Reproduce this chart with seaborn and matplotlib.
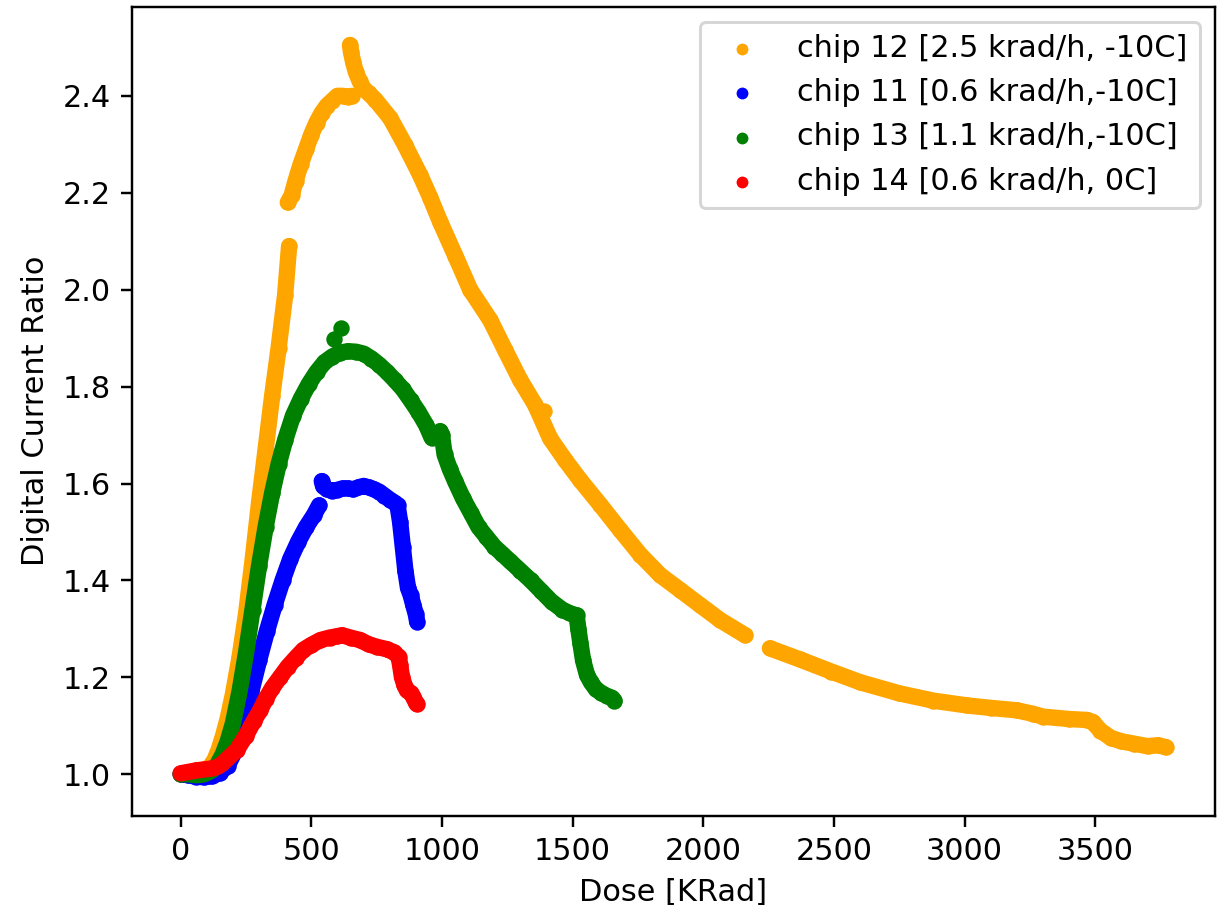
import numpy as np
import pandas as pd
import matplotlib
matplotlib.use("Agg")
import matplotlib.pyplot as plt
import seaborn as sns

# ---------------- data ----------------
# chip 12 [2.5 krad/h, -10C]  (orange) - runs with gaps/jumps
chip12_dose_a = [0, 20, 40, 60, 80, 100, 115, 130, 145, 160, 180, 200, 225, 250, 275, 300, 325, 350, 375, 400, 415]
chip12_ratio_a = [1.000, 1.002, 1.004, 1.005, 1.006, 1.010, 1.018, 1.030, 1.050, 1.075, 1.115, 1.165, 1.240, 1.330,
                  1.440, 1.560, 1.670, 1.780, 1.880, 1.990, 2.090]
chip12_dose_b = [410, 425, 440, 460, 480, 500, 520, 540, 560, 580, 600, 620, 640, 655]
chip12_ratio_b = [2.180, 2.195, 2.225, 2.260, 2.290, 2.320, 2.345, 2.365, 2.380, 2.390, 2.400, 2.400, 2.398, 2.400]
chip12_dose_c = [648, 652, 660, 670, 685, 700, 720, 745, 802, 859, 917, 955, 993, 1051, 1108, 1185, 1242, 1299,
                 1357, 1414, 1472, 1529, 1606, 1682, 1759, 1835, 1912, 1988, 2065, 2160]
chip12_ratio_c = [2.505, 2.490, 2.470, 2.450, 2.430, 2.415, 2.405, 2.392, 2.354, 2.298, 2.236, 2.190, 2.140, 2.070,
                  2.000, 1.937, 1.875, 1.814, 1.762, 1.693, 1.648, 1.607, 1.556, 1.504, 1.453, 1.411, 1.380,
                  1.349, 1.318, 1.287]
chip12_dose_out = [1390]
chip12_ratio_out = [1.750]
chip12_dose_d = [2255, 2370, 2490, 2600, 2750, 2880, 3010, 3100, 3200, 3260, 3300, 3400, 3470, 3490, 3520, 3560,
                 3600, 3650, 3700, 3740, 3770]
chip12_ratio_d = [1.260, 1.237, 1.212, 1.190, 1.167, 1.152, 1.142, 1.137, 1.132, 1.125, 1.119, 1.114, 1.112, 1.108,
                  1.090, 1.075, 1.068, 1.063, 1.058, 1.060, 1.056]

# chip 11 [0.6 krad/h,-10C]  (blue)
chip11_dose_a = [0, 30, 60, 90, 120, 150, 180, 210, 240, 270, 300, 330, 360, 390, 420, 450, 480, 510, 530]
chip11_ratio_a = [1.000, 0.998, 0.995, 0.994, 0.996, 1.003, 1.018, 1.050, 1.105, 1.170, 1.235, 1.295, 1.350, 1.400,
                  1.445, 1.480, 1.510, 1.535, 1.555]
chip11_dose_b = [540, 545, 560, 580, 600, 620, 640, 660, 680, 700, 720, 740, 760, 780, 800, 820, 830, 840, 850, 860,
                 870, 880, 890, 900, 905]
chip11_ratio_b = [1.605, 1.595, 1.588, 1.585, 1.587, 1.590, 1.590, 1.588, 1.592, 1.595, 1.592, 1.588, 1.583, 1.575,
                  1.567, 1.560, 1.555, 1.520, 1.470, 1.420, 1.385, 1.370, 1.350, 1.330, 1.315]

# chip 13 [1.1 krad/h,-10C]  (green)
chip13_dose_a = [0, 30, 60, 90, 120, 140, 160, 180, 200, 225, 250, 275, 300, 325, 350, 375, 400, 430, 460, 490, 520,
                 550, 580, 610, 640, 670, 700, 730, 760, 790, 820, 850, 880, 910, 940, 960]
chip13_ratio_a = [1.000, 1.000, 0.998, 1.000, 1.008, 1.020, 1.040, 1.068, 1.105, 1.170, 1.250, 1.340, 1.430, 1.510,
                  1.580, 1.640, 1.690, 1.740, 1.775, 1.805, 1.830, 1.850, 1.862, 1.870, 1.873, 1.872, 1.868, 1.858,
                  1.845, 1.830, 1.813, 1.795, 1.772, 1.748, 1.720, 1.695]
chip13_dose_b = [993, 1000, 1010, 1030, 1050, 1080, 1110, 1140, 1170, 1200, 1230, 1260, 1300, 1340, 1380, 1420, 1460,
                 1490, 1515, 1522, 1530, 1540, 1555, 1570, 1590, 1610, 1630, 1650, 1660]
chip13_ratio_b = [1.708, 1.700, 1.660, 1.630, 1.605, 1.570, 1.540, 1.510, 1.490, 1.470, 1.455, 1.440, 1.420, 1.400,
                  1.378, 1.356, 1.340, 1.332, 1.328, 1.300, 1.270, 1.235, 1.205, 1.190, 1.175, 1.168, 1.162, 1.158,
                  1.152]
chip13_dose_out = [585, 615]
chip13_ratio_out = [1.899, 1.920]

# chip 14 [0.6 krad/h, 0C]  (red)
chip14_dose = [0, 30, 60, 90, 120, 140, 160, 185, 215, 250, 280, 305, 325, 350, 380, 410, 440, 470, 500, 535, 570,
               600, 617, 650, 687, 720, 751, 790, 815, 834, 840, 847, 856, 866, 880, 890, 900, 905]
chip14_ratio = [1.002, 1.005, 1.008, 1.010, 1.012, 1.015, 1.022, 1.035, 1.050, 1.080, 1.110, 1.133, 1.155, 1.178,
                1.200, 1.222, 1.240, 1.257, 1.267, 1.277, 1.282, 1.285, 1.287, 1.282, 1.277, 1.268, 1.263, 1.258,
                1.252, 1.243, 1.225, 1.200, 1.185, 1.173, 1.168, 1.160, 1.148, 1.145]

labels = ["chip 12 [2.5 krad/h, -10C]", "chip 11 [0.6 krad/h,-10C]",
          "chip 13 [1.1 krad/h,-10C]", "chip 14 [0.6 krad/h, 0C]"]
colors = ["orange", "blue", "green", "red"]

series = [
    ([(chip12_dose_a, chip12_ratio_a), (chip12_dose_b, chip12_ratio_b),
      (chip12_dose_c, chip12_ratio_c), (chip12_dose_d, chip12_ratio_d)], [(chip12_dose_out, chip12_ratio_out)]),
    ([(chip11_dose_a, chip11_ratio_a), (chip11_dose_b, chip11_ratio_b)], []),
    ([(chip13_dose_a, chip13_ratio_a), (chip13_dose_b, chip13_ratio_b)], [(chip13_dose_out, chip13_ratio_out)]),
    ([(chip14_dose, chip14_ratio)], []),
]

# ---------------- figure ----------------
DPI = 219
fig, ax = plt.subplots(figsize=(1225 / DPI, 905 / DPI), dpi=DPI)
fig.subplots_adjust(left=0.1078, right=0.9918, bottom=0.0987, top=0.9926)

LW = 5.4
for (segs, extras), lab, col in zip(series, labels, colors):
    xs_all, ys_all = [], []
    for xs, ys in segs:
        sns.lineplot(x=xs, y=ys, sort=False, estimator=None, color=col, linewidth=LW,
                     solid_capstyle="round", solid_joinstyle="round", ax=ax, legend=False)
        xs_all += list(xs)
        ys_all += list(ys)
    for xs, ys in extras:
        xs_all += list(xs)
        ys_all += list(ys)
    sns.scatterplot(x=xs_all, y=ys_all, color=col, s=LW ** 2, linewidth=0, ax=ax, label=lab)

ax.set_xlim(-186, 3958)
ax.set_ylim(0.9146, 2.584)
ax.set_xticks(np.arange(0, 3501, 500))
ax.set_yticks(np.round(np.arange(1.0, 2.41, 0.2), 1))
ax.set_xlabel("Dose [KRad]")
ax.set_ylabel("Digital Current Ratio")

leg = ax.legend(loc="upper right", markerscale=0.72)
fig.savefig("out.png", dpi=DPI)
